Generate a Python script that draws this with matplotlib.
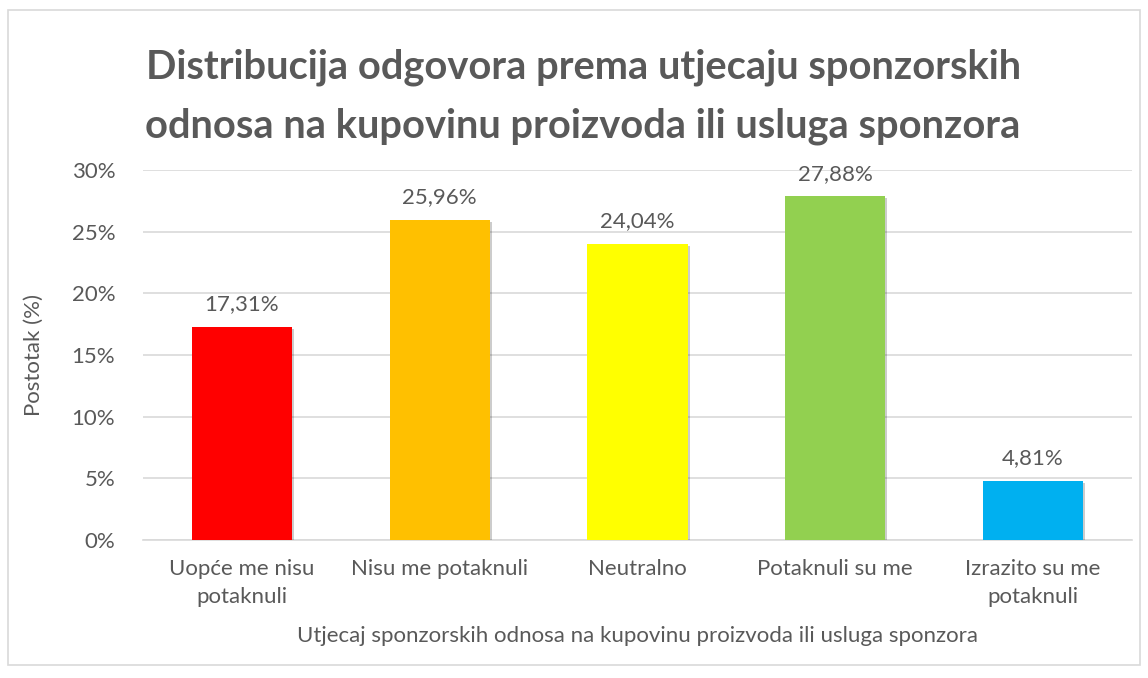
import matplotlib
matplotlib.use('Agg')
import matplotlib.pyplot as plt
import matplotlib.patheffects as pe
from matplotlib.patches import Rectangle
from matplotlib.ticker import FuncFormatter
import numpy as np

categories = ['Uopće me nisu\npotaknuli', 'Nisu me potaknuli', 'Neutralno',
              'Potaknuli su me', 'Izrazito su me\npotaknuli']
values = [17.31, 25.96, 24.04, 27.88, 4.81]
colors = ['#FF0000', '#FFC000', '#FFFF00', '#92D050', '#00B0F0']

txt = '#595959'
plt.rcParams['font.family'] = ['Lato', 'DejaVu Sans']

fig = plt.figure(figsize=(11.48, 6.78), dpi=100)
ax = fig.add_axes([143 / 1148, 1 - 540 / 678, 989 / 1148, 370 / 678])

x = np.arange(len(categories))
bars = ax.bar(x, values, width=0.506, color=colors, zorder=3)
for b in bars:
    b.set_path_effects([pe.SimplePatchShadow(offset=(1.5, -1.5), shadow_rgbFace='#000000', alpha=0.2), pe.Normal()])

for xi, v in zip(x, values):
    ax.annotate(f'{v:.2f}%'.replace('.', ','), (xi, v), xytext=(0, 9), textcoords='offset points',
                ha='center', va='bottom', fontsize=16, color=txt)

ax.set_xlim(-0.5, len(categories) - 0.5)
ax.set_ylim(0, 30)
ax.set_yticks(np.arange(0, 31, 5))
ax.yaxis.set_major_formatter(FuncFormatter(lambda v, p: f'{v:.0f}%'))
ax.set_xticks(x)
ax.set_xticklabels(categories, fontsize=16, color=txt, linespacing=1.45)
ax.tick_params(axis='y', labelsize=16, colors=txt, length=0, pad=20)
ax.tick_params(axis='x', length=0, pad=14)
ax.grid(axis='y', color='#d9d9d9', linewidth=1.2, zorder=0)
for s in ['top', 'right', 'left']:
    ax.spines[s].set_visible(False)
ax.spines['bottom'].set_color('#d9d9d9')
ax.spines['bottom'].set_linewidth(1.2)

ax.set_xlabel('Utjecaj sponzorskih odnosa na kupovinu proizvoda ili usluga sponzora',
              fontsize=16, color=txt, labelpad=14)
ax.set_ylabel('Postotak (%)', fontsize=16, color=txt, labelpad=20)

fig.text(0.508, 1 - 97 / 678, 'Distribucija odgovora prema utjecaju sponzorskih\nodnosa na kupovinu proizvoda ili usluga sponzora',
         ha='center', va='center', fontsize=28.7, fontweight='bold', color=txt, linespacing=1.72)

fig.patches.append(Rectangle((8 / 1148, 1 - 665 / 678), 1132 / 1148, 655 / 678,
                             transform=fig.transFigure, fill=False, edgecolor='#d9d9d9', linewidth=1.2))

fig.savefig('out.png', dpi=100)
